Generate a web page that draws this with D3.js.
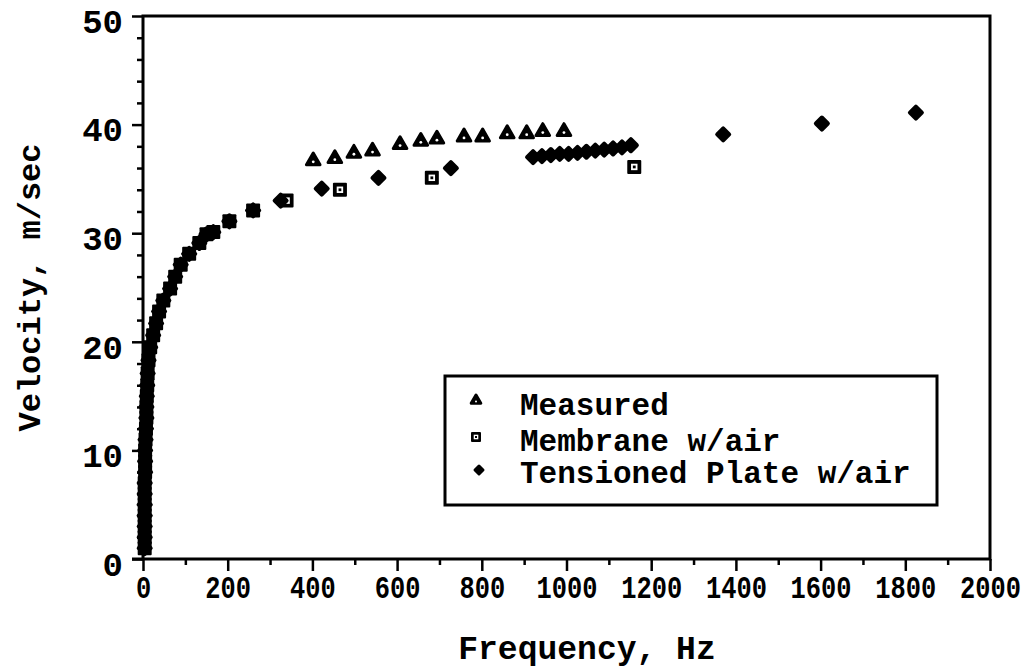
<!DOCTYPE html>
<html>
<head>
<meta charset="utf-8">
<script src="https://cdn.jsdelivr.net/npm/d3@7"></script>
<style>
  html, body { margin: 0; padding: 0; background: #fff; }
  svg { display: block; }
  text { font-family: "Liberation Mono", "Courier New", monospace; font-weight: bold; fill: #000; }
</style>
</head>
<body>
<svg id="chart" width="1034" height="668"></svg>
<script>
// Axis tick values
const xTicks = [0, 200, 400, 600, 800, 1000, 1200, 1400, 1600, 1800, 2000];
const yTicks = [0, 10, 20, 30, 40, 50];

// Measured velocities
const measuredFreq = [402, 453, 498, 542, 607, 656, 694, 758, 802, 860, 906, 944, 994];
const measuredVel  = [36.8, 37.0, 37.5, 37.7, 38.3, 38.6, 38.8, 39.0, 39.0, 39.3, 39.3, 39.5, 39.5];

// Low-frequency branch where both models coincide
const lowFreq = [260, 204, 166, 150, 133, 109, 89, 76, 64, 48, 38, 31, 24, 17, 13, 11, 10, 9, 8, 8, 7, 6, 5, 5, 5, 4, 4, 4, 4, 4, 4, 4];
const lowVel  = [32.1, 31.1, 30.1, 29.9, 29.1, 28.1, 27.1, 26.0, 24.9, 23.8, 22.8, 21.7, 20.6, 19.5, 18.3, 17.1, 16.0, 15.0, 14.0, 13.0, 12.0, 11.0, 10.0, 9.0, 8.0, 7.0, 6.0, 5.0, 4.0, 3.0, 2.0, 1.0];

// Membrane w/air model, upper branch
const membraneFreq = [339, 465, 682, 1160];
const membraneVel  = [33.0, 34.0, 35.1, 36.1];

// Tensioned plate w/air model, upper branch
const plateFreq = [325, 422, 556, 727, 921, 942, 963, 984, 1005, 1026, 1047, 1068, 1089, 1110, 1131, 1152, 1370, 1603, 1825];
const plateVel  = [33.0, 34.1, 35.1, 36.0, 37.0, 37.1, 37.2, 37.3, 37.3, 37.4, 37.5, 37.6, 37.7, 37.8, 37.9, 38.1, 39.1, 40.1, 41.1];

const legendLabels = ["Measured", "Membrane w/air", "Tensioned Plate w/air"];

const svg = d3.select("#chart");
const plotLeft = 143, plotRight = 990, plotTop = 16, plotBottom = 559;

const x = d3.scaleLinear().domain([0, 2000]).range([plotLeft, plotRight]);
const y = d3.scaleLinear().domain([0, 50]).range([plotBottom, plotTop]);

// ---- Marker shapes ----
const triSymbol = d3.symbol().type(d3.symbolTriangle);
function drawTriangle(g, cx, cy, area, dot) {
  g.append("path")
    .attr("transform", `translate(${cx},${cy + 1.5})`)
    .attr("d", triSymbol.size(area)())
    .style("fill", "#000").style("stroke", "#000")
    .style("stroke-width", 3).style("stroke-linejoin", "round");
  g.append("circle").attr("cx", cx).attr("cy", cy + 2.5).attr("r", dot).style("fill", "#fff");
}
function drawSquare(g, cx, cy, s) {
  g.append("rect").attr("x", cx - s / 2).attr("y", cy - s / 2).attr("width", s).attr("height", s)
    .attr("rx", 1).style("fill", "#000");
  const i = s * 0.46;
  g.append("rect").attr("x", cx - i / 2).attr("y", cy - i / 2).attr("width", i).attr("height", i).style("fill", "#fff");
  const c = s * 0.2;
  g.append("rect").attr("x", cx - c / 2).attr("y", cy - c / 2).attr("width", c).attr("height", c).style("fill", "#000");
}
function drawDiamond(g, cx, cy, r, sw) {
  g.append("path")
    .attr("d", `M${cx},${cy - r}L${cx + r},${cy}L${cx},${cy + r}L${cx - r},${cy}Z`)
    .style("fill", "#000").style("stroke", "#000")
    .style("stroke-width", sw).style("stroke-linejoin", "round");
}

// ---- Axes ----
const yMinor = d3.range(2, 50, 2).filter(v => v % 10 !== 0);
const xMinor = d3.range(100, 2000, 200);

const yAxisMinor = svg.append("g").attr("transform", `translate(${plotLeft},0)`)
  .call(d3.axisLeft(y).tickValues(yMinor).tickSize(6).tickFormat(""));
const yAxis = svg.append("g").attr("transform", `translate(${plotLeft},0)`)
  .call(d3.axisLeft(y).tickValues(yTicks).tickSize(11).tickPadding(9).tickFormat(d3.format("d")));
yAxis.selectAll("text").attr("font-size", 34).attr("dy", "0.48em");

const xAxisMinor = svg.append("g").attr("transform", `translate(0,${plotBottom})`)
  .call(d3.axisBottom(x).tickValues(xMinor).tickSize(6).tickFormat(""));
const xAxis = svg.append("g").attr("transform", `translate(0,${plotBottom})`)
  .call(d3.axisBottom(x).tickValues(xTicks).tickSize(12).tickPadding(10).tickFormat(d3.format("d")));
xAxis.selectAll("text").attr("font-size", 31).attr("y", 8).attr("dy", "1em")
  .attr("transform", "scale(0.82,1)");

[yAxisMinor, yAxis, xAxisMinor, xAxis].forEach(a => {
  a.select(".domain").remove();
  a.selectAll("line").attr("stroke", "#000").attr("stroke-width", 2.5);
});

// Frame
svg.append("path")
  .attr("d", `M${plotLeft},${plotBottom}L${plotLeft},${plotTop}L${plotRight},${plotTop}L${plotRight},${plotBottom}Z`)
  .attr("fill", "none").attr("stroke", "#000").attr("stroke-width", 3);
svg.append("line").attr("x1", plotLeft - 11).attr("x2", plotLeft).attr("y1", plotBottom).attr("y2", plotBottom)
  .attr("stroke", "#000").attr("stroke-width", 3);

// Axis titles
svg.append("text").attr("x", 587).attr("y", 659).attr("text-anchor", "middle")
  .attr("font-size", 33).text("Frequency, Hz");
svg.append("text").attr("transform", `translate(40,${(plotTop + plotBottom) / 2}) rotate(-90)`)
  .attr("text-anchor", "middle").attr("font-size", 32).text("Velocity, m/sec");

// ---- Data marks ----
const marks = svg.append("g");
const membraneAll = lowFreq.map((f, i) => [f, lowVel[i]])
  .concat(membraneFreq.map((f, i) => [f, membraneVel[i]]));
const plateAll = lowFreq.map((f, i) => [f, lowVel[i]])
  .concat(plateFreq.map((f, i) => [f, plateVel[i]]));

membraneAll.forEach(([f, v]) => drawSquare(marks, x(f), y(v), 14));
plateAll.forEach(([f, v]) => drawDiamond(marks, x(f), y(v), 6, 4));
measuredFreq.forEach((f, i) => drawTriangle(marks, x(f), y(measuredVel[i]), 80, 1.4));

// ---- Legend ----
const lg = svg.append("g");
lg.append("rect").attr("x", 445).attr("y", 376).attr("width", 492).attr("height", 129)
  .attr("fill", "#fff").attr("stroke", "#000").attr("stroke-width", 3);
drawTriangle(lg, 476, 399, 40, 1);
drawSquare(lg, 476, 437, 10);
drawDiamond(lg, 479, 470, 4, 3);
const baselines = [415, 451, 483];
legendLabels.forEach((t, i) => {
  lg.append("text").attr("x", 520).attr("y", baselines[i]).attr("font-size", 31).text(t);
});
</script>
</body>
</html>
